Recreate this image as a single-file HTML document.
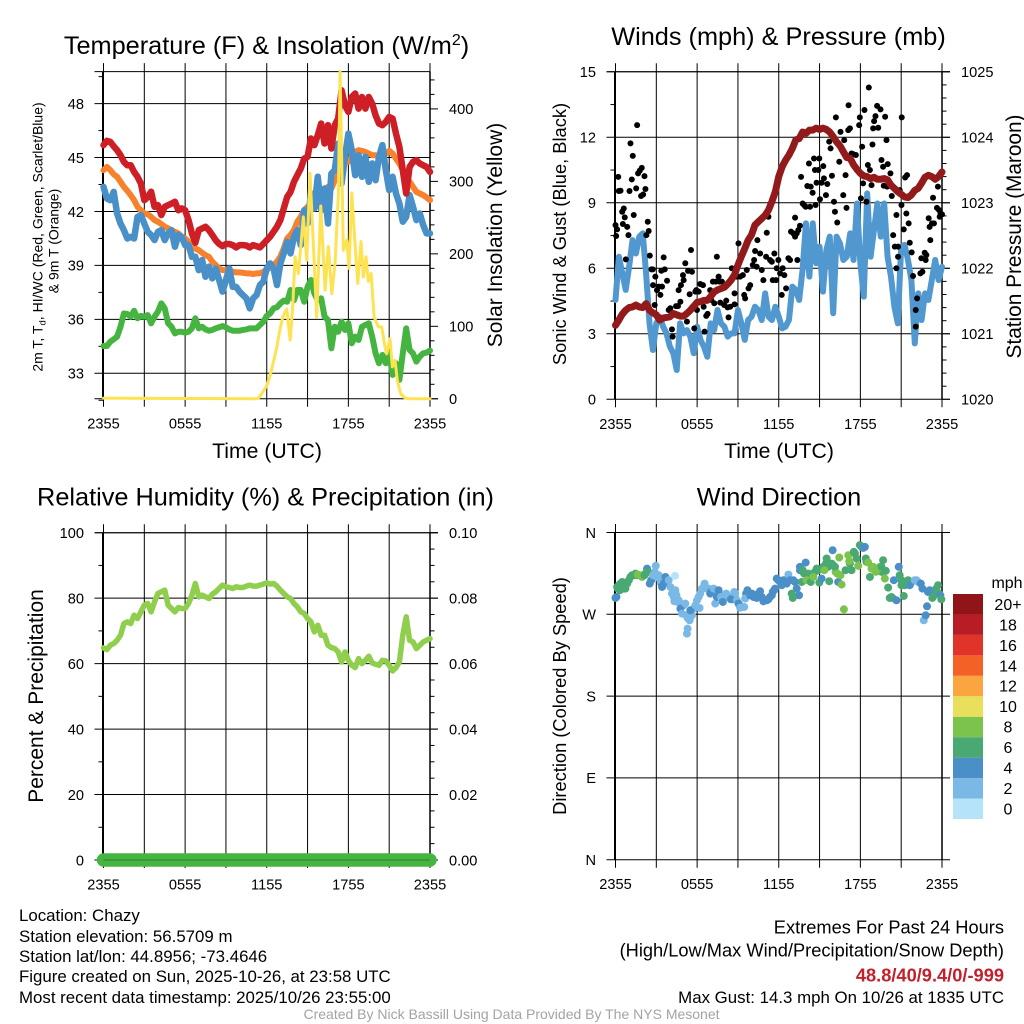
<!DOCTYPE html>
<html lang="en">
<head>
<meta charset="utf-8">
<title>Chazy NYS Mesonet Meteogram</title>
<style>
html,body{margin:0;padding:0;background:#fff;}
svg{display:block;}
text{font-family:"Liberation Sans",Arial,Helvetica,sans-serif;fill:#000;}
</style>
</head>
<body>
<svg id="chart" xmlns="http://www.w3.org/2000/svg" width="1024" height="1024" viewBox="0 0 1024 1024">
<rect x="0" y="0" width="1024" height="1024" fill="#fff"/>
<g id="layers"></g>
<text x="266.5" y="54" font-size="25.3" text-anchor="middle">Temperature (F) &amp; Insolation (W/m<tspan dy="-9" font-size="16">2</tspan><tspan dy="9">)</tspan></text>
<text x="778.5" y="45" font-size="25.3" text-anchor="middle">Winds (mph) &amp; Pressure (mb)</text>
<text x="265.5" y="505.5" font-size="25.3" text-anchor="middle">Relative Humidity (%) &amp; Precipitation (in)</text>
<text x="779" y="505.5" font-size="25.3" text-anchor="middle">Wind Direction</text>
<text x="267" y="458" font-size="21.2" text-anchor="middle">Time (UTC)</text>
<text x="779" y="458" font-size="21.2" text-anchor="middle">Time (UTC)</text>
<text transform="translate(42.5,237) rotate(-90)" font-size="14" text-anchor="middle">2m T, T<tspan dy="3" font-size="9.5">d</tspan><tspan dy="-3">, HI/WC (Red, Green, Scarlet/Blue)</tspan></text>
<text transform="translate(58.5,241) rotate(-90)" font-size="14" text-anchor="middle">&amp; 9m T (Orange)</text>
<text transform="translate(502,235) rotate(-90)" font-size="21" text-anchor="middle">Solar Insolation (Yellow)</text>
<text transform="translate(566,234) rotate(-90)" font-size="18.3" text-anchor="middle">Sonic Wind &amp; Gust (Blue, Black)</text>
<text transform="translate(1021,236.5) rotate(-90)" font-size="20.8" text-anchor="middle">Station Pressure (Maroon)</text>
<text transform="translate(43,696) rotate(-90)" font-size="21" text-anchor="middle">Percent &amp; Precipitation</text>
<text transform="translate(566,696) rotate(-90)" font-size="18.3" text-anchor="middle">Direction (Colored By Speed)</text>
<text x="1007" y="588" font-size="16" text-anchor="middle">mph</text>
<g font-size="16.85">
<text x="19" y="921">Location: Chazy</text>
<text x="19" y="942">Station elevation: 56.5709 m</text>
<text x="19" y="962">Station lat/lon: 44.8956; -73.4646</text>
<text x="19" y="982">Figure created on Sun, 2025-10-26, at 23:58 UTC</text>
<text x="19" y="1003">Most recent data timestamp: 2025/10/26 23:55:00</text>
</g>
<g text-anchor="end">
<text x="1004" y="933.5" font-size="18.25">Extremes For Past 24 Hours</text>
<text x="1004" y="956.5" font-size="18.25">(High/Low/Max Wind/Precipitation/Snow Depth)</text>
<text x="1004" y="981.5" font-size="18.25" font-weight="bold" style="fill:#c4202b">48.8/40/9.4/0/-999</text>
<text x="1004" y="1003" font-size="16.85">Max Gust: 14.3 mph On 10/26 at 1835 UTC</text>
</g>
<text x="511.5" y="1019" font-size="14" text-anchor="middle" style="fill:#a3a3a3">Created By Nick Bassill Using Data Provided By The NYS Mesonet</text>
</svg>
<script>
// Time axis: every regular series is sampled once per quarter hour from 2355 UTC.
const sampleStepHours = 0.25;
const timeTickHours = [0, 3, 6, 9, 12, 15, 18, 21, 24];
const timeTickLabels = ['2355', '', '0555', '', '1155', '', '1755', '', '2355'];

const tempTicks = [33, 36, 39, 42, 45, 48];
const tempMinorTicks = [31.5, 34.5, 37.5, 40.5, 43.5, 46.5, 49.5];
const solarTicks = [0, 100, 200, 300, 400];
const solarMinorTicks = [20, 40, 60, 80, 120, 140, 160, 180, 220, 240, 260, 280, 320, 340, 360, 380, 420, 440];
const windTicks = [0, 3, 6, 9, 12, 15];
const windMinorTicks = [1.5, 4.5, 7.5, 10.5, 13.5];
const pressureTicks = [1020, 1021, 1022, 1023, 1024, 1025];
const pressureMinorTicks = [1020.2, 1020.4, 1020.6, 1020.8, 1021.2, 1021.4, 1021.6, 1021.8, 1022.2, 1022.4, 1022.6, 1022.8, 1023.2, 1023.4, 1023.6, 1023.8, 1024.2, 1024.4, 1024.6, 1024.8];
const humidityTicks = [0, 20, 40, 60, 80, 100];
const humidityMinorTicks = [10, 30, 50, 70, 90];
const precipTicks = [0, 0.02, 0.04, 0.06, 0.08, 0.10];
const precipTickLabels = ['0.00', '0.02', '0.04', '0.06', '0.08', '0.10'];
const precipMinorTicks = [0.005, 0.01, 0.015, 0.025, 0.03, 0.035, 0.045, 0.05, 0.055, 0.065, 0.07, 0.075, 0.085, 0.09, 0.095];
const directionTicks = [0, 90, 180, 270, 360];
const directionTickLabels = ['N', 'E', 'S', 'W', 'N'];

const tempRed = [45.69,45.93,45.87,45.63,45.41,45.13,44.76,44.57,44.57,44.2,43.93,43.55,42.63,42.8,43.1,42.26,42.35,41.8,42.26,42.35,42.44,42.54,42.07,42.17,42.07,41.52,40.78,40.26,40.96,41.06,41.15,40.96,40.69,40.4,40.2,40.07,40.19,40.19,40.13,40,40.13,40.13,40.11,40,40.13,40.07,40,40.2,40.4,40.6,40.87,41.15,41.52,42.17,42.81,43.09,43.65,44.02,44.39,44.94,45.04,46.06,45.69,46.24,46.89,45.78,46.8,45.5,46.8,47.17,48.74,47.91,47.54,48.37,48.56,47.72,48.37,47.72,48.37,48,47.35,46.89,46.8,46.98,47.26,47.17,46.33,45.59,44.3,43,44.48,44.76,44.85,44.67,44.57,44.48,44.2];
const tempOrange = [44.30,44.48,44.30,44.07,43.93,43.65,43.37,43.15,42.91,42.63,42.26,42.07,41.89,41.85,41.70,41.52,41.43,41.30,41.15,41.06,40.96,40.87,40.78,40.59,40.50,40.31,40.13,39.94,39.85,39.70,39.57,39.48,39.20,39.02,38.83,38.74,38.74,38.70,38.65,38.61,38.61,38.59,38.56,38.56,38.52,38.56,38.56,38.65,38.74,38.93,39.02,39.20,39.48,39.94,40.50,40.69,40.96,41.43,41.70,42.07,42.26,42.35,42.54,42.81,43.00,43.19,43.37,43.28,43.74,44.02,44.48,44.85,44.76,45.04,45.31,45.41,45.37,45.31,45.22,45.13,45.13,45.04,45.04,45.22,45.37,45.22,44.94,44.67,44.30,43.93,43.65,43.37,43.09,43.00,42.91,42.78,42.63];
const tempBlue = [43.37,42.72,42.63,43.09,41.89,41.33,40.96,40.50,40.59,40.50,41.70,41.80,41.33,40.87,40.69,40.41,40.87,40.96,40.41,40.78,40.96,40.04,40.69,40.59,40.13,40.13,39.48,39.48,38.74,39.30,38.37,38.93,38.28,38.83,38.19,37.54,38.19,38.83,37.81,37.81,37.54,37.35,37.17,36.61,37.17,37.35,37.91,38.09,38.83,39.11,38.83,37.91,39.11,39.67,40.31,39.67,40.59,40.96,40.13,42.07,41.33,43.00,42.17,43.93,42.07,43.28,41.33,44.11,44.30,45.78,43.56,45.04,46.33,45.41,44.02,45.13,43.93,45.04,43.65,44.67,43.74,45.04,45.69,44.30,43.19,43.93,43.00,42.44,41.43,41.70,42.91,42.26,41.52,41.89,41.24,40.78,40.78];
const tempGreen = [34.52,34.52,34.76,34.89,35.04,35.59,36.33,36.30,36.15,36.48,36.06,36.19,36.15,36.24,35.78,36.15,36.43,36.89,36.61,35.78,35.59,35.22,35.31,35.31,35.26,35.31,35.50,36.06,35.50,35.59,35.44,35.37,35.41,35.50,35.56,35.63,35.56,35.44,35.37,35.37,35.37,35.41,35.44,35.50,35.50,35.50,35.69,35.87,36.19,36.33,36.61,36.67,36.89,37.04,36.98,37.63,37.07,37.63,37.63,36.98,37.81,38.19,37.44,37.07,37.17,36.15,35.96,34.39,35.59,35.31,35.87,35.41,35.78,34.67,35.04,34.85,35.59,35.69,35.78,35.04,34.11,33.56,34.02,33.56,34.11,32.91,33.56,32.63,34.11,35.50,34.30,34.11,33.65,33.93,34.11,34.15,34.26];

const solarHours = [0,11.14,11.39,11.63,12,12.25,12.49,12.74,12.93,13.18,13.47,13.72,13.91,14.08,14.33,14.69,14.94,15.18,15.48,15.67,15.97,16.29,16.53,16.78,17.02,17.27,17.39,17.63,17.88,18.05,18.25,18.44,18.69,18.93,19.1,19.3,19.47,19.67,19.89,20.21,20.45,20.7,20.82,21.06,21.23,21.43,21.6,21.85,22.16,22.53,24];
const solarValues = [1,0,1,7,18,32,51,71,92,113,124,81,127,196,173,251,191,311,191,113,266,150,210,145,187,284,452,205,219,180,284,228,159,217,168,196,162,173,113,99,99,71,62,83,44,53,25,7,1,0,0];

const windSpeed = [4.55,6.53,5.77,5.01,6.07,7.29,6.68,7.45,7.60,5.77,3.48,2.26,3.48,3.78,3.33,3.02,2.41,2.11,1.34,3.48,3.02,3.17,2.87,2.11,3.33,2.72,2.41,1.95,3.48,3.17,4.09,3.48,3.33,2.87,3.02,3.02,4.09,3.48,2.72,3.63,3.78,4.24,4.09,3.63,4.85,3.78,3.63,4.24,3.78,3.25,3.33,3.63,5.16,5.01,4.55,5.92,8.06,5.62,8.06,6.23,6.99,4.93,6.84,7.45,3.94,7.45,7.14,6.38,6.53,7.60,6.38,8.97,6.23,4.70,9.43,6.53,7.75,8.97,7.45,8.97,6.53,5.62,4.24,3.48,6.99,7.07,6.38,5.46,2.56,4.85,3.63,4.85,4.55,5.46,6.38,5.46,6.07];
const pressureValues = [1021.13,1021.21,1021.30,1021.36,1021.40,1021.41,1021.44,1021.41,1021.40,1021.46,1021.36,1021.32,1021.29,1021.21,1021.24,1021.25,1021.26,1021.31,1021.29,1021.27,1021.27,1021.31,1021.36,1021.42,1021.48,1021.49,1021.51,1021.51,1021.57,1021.64,1021.67,1021.69,1021.71,1021.76,1021.82,1021.90,1022.05,1022.18,1022.30,1022.43,1022.51,1022.66,1022.71,1022.76,1022.81,1022.89,1023.02,1023.17,1023.40,1023.55,1023.65,1023.73,1023.83,1023.96,1023.98,1024.08,1024.06,1024.11,1024.11,1024.14,1024.12,1024.14,1024.12,1024.08,1024.01,1023.93,1023.87,1023.78,1023.69,1023.68,1023.58,1023.51,1023.45,1023.41,1023.40,1023.37,1023.39,1023.36,1023.36,1023.37,1023.35,1023.27,1023.22,1023.17,1023.13,1023.09,1023.08,1023.12,1023.19,1023.22,1023.30,1023.39,1023.42,1023.40,1023.36,1023.40,1023.47];

const gustHours = [0,.05,.12,.2,.24,.37,.49,.61,.54,.68,.86,.95,.76,1.03,1.1,1.27,1.2,1.34,1.52,1.59,1.66,1.78,1.93,1.88,2.03,2.13,2.2,2.37,2.44,2.27,2.52,2.64,2.74,2.76,2.93,2.88,3.05,3.18,3.3,3.42,3.37,3.54,3.62,3.79,3.91,4.03,4.2,4.15,4.45,4.59,4.64,4.81,4.77,5.01,4.96,5.13,5.33,5.55,5.62,5.25,5.45,5.79,5.87,5.99,5.94,6.11,6.23,6.43,6.48,6.55,6.67,6.77,6.96,7.04,7.16,7.26,7.45,7.38,7.58,7.65,7.7,7.82,7.99,8.14,8.24,8.31,8.43,8.55,8.75,8.75,8.92,9.04,9.16,9.36,9.46,9.53,9.65,9.78,9.9,10.09,10.19,10.26,10.43,10.38,10.63,10.75,10.87,11.07,11.12,11.24,11.36,11.49,11.56,11.68,11.8,11.85,11.97,12.1,12.22,12.29,12.41,12.54,12.71,12.83,12.9,13.07,13.2,13.32,13.44,13.56,13.2,13.37,13.64,13.76,13.86,13.98,14.1,14.22,14.35,14.3,14.49,14.59,14.66,14.71,14.91,14.78,14.98,15.03,15.15,15.27,15.32,15.47,15.57,15.71,15.81,15.91,16.06,16.13,16.2,16.3,16.45,16.54,16.74,16.81,16.91,16.98,17.11,17.13,17.23,17.35,17.47,17.67,17.91,17.96,18.04,18.13,18.2,18.3,18.45,18.55,18.62,18.7,18.82,18.89,18.94,19.01,19.11,19.23,19.31,19.48,19.55,19.67,19.72,19.82,19.92,19.97,20.01,20.21,20.31,20.41,20.53,20.65,20.65,20.77,20.77,20.89,21.02,21.04,21.19,21.29,21.43,21.38,21.55,21.63,21.77,21.87,22.17,22.07,22.07,22.41,22.48,22.56,22.73,22.85,22.8,23.02,23.09,23.14,23.26,23.41,23.34,23.63,23.7,23.78,23.83,23.9,24];
const gustSpeed = [7.98,7.48,7.78,10.19,9.54,9.55,8.59,8.74,8.03,8.33,7.9,7.52,6.41,9.54,11.72,11.15,10.07,8.44,9.66,12.56,10.35,10.47,10.6,9.31,9.38,10.22,9.63,8.13,7.71,7.52,6.58,5.95,5.95,5.23,5.62,4.32,5.0,5.16,4.78,5.16,5.89,6.5,5.95,5.43,4.09,4.17,2.87,3.2,4.27,4.27,5.0,5.23,4.47,5.46,5.69,6.23,5.88,6.84,5.84,3.56,4.81,3.25,4.93,4.09,5.0,4.93,5.28,5.23,4.24,3.1,3.82,3.91,5.0,4.55,5.39,4.4,6.53,5.39,5.62,5.39,4.43,5.39,4.32,4.52,4.21,3.75,4.24,6.0,4.85,4.35,5.62,7.14,5.62,5.69,4.78,4.62,5.92,5.08,5.23,6.15,6.38,6.79,7.29,6.07,6.68,5.92,5.46,6.53,7.63,8.36,6.38,6.3,5.46,6.68,5.46,6.0,6.38,5.77,4.78,6.0,5.69,5.08,6.46,6.38,7.68,7.6,7.45,7.6,7.75,7.95,8.32,6.38,10.19,8.97,8.9,8.82,9.77,10.8,9.74,8.82,9.46,11.03,10.5,8.9,10.5,9.92,11.03,9.16,9.92,10.68,10.12,9.35,9.86,11.8,11.49,10.24,9.05,8.59,12.91,8.1,10.88,12.25,9.35,11.87,10.27,8.77,12.33,13.47,12.41,11.26,11.23,11.19,12.56,12.91,9.2,11.57,9.89,13.25,9.05,10.73,14.28,10.5,9.81,11.67,12.41,12.74,12.97,13.44,12.44,13.28,10.96,10.65,9.78,12.94,11.87,9.74,10.77,10.35,9.31,7.52,6.99,8.44,6.0,6.99,6.53,9.58,8.9,12.91,7.78,10.16,10.27,8.51,8.06,7.17,6.73,5.65,4.62,4.09,3.33,5.77,6.46,5.84,6.71,6.61,6.38,8.29,7.9,7.29,8.06,8.06,9.23,8.77,9.74,8.67,8.36,8.51,8.47];

const humidityValues = [64.8,64.29,65.61,66.12,67.14,68.67,72.24,72.76,72.24,74.8,73.78,75.82,77.86,78.37,75.82,78.88,81.43,81.94,82.45,77.86,76.84,75.82,77.14,76.84,76.84,78.37,80.92,84.49,80.41,80.92,80.41,79.9,81.22,81.94,82.96,83.98,83.47,83.27,82.96,83.47,83.27,83.27,83.67,83.98,83.67,83.67,83.98,84.29,84.69,84.29,84.49,83.67,82.45,81.43,80.41,79.9,78.37,77.35,75.82,75.31,73.78,72.76,69.69,71.73,68.67,68.67,65.61,64.9,64.59,63.57,60.51,63.57,61.02,59.49,58.78,61.53,60,61.02,62.24,60.2,59.8,59.49,61.02,60.82,59.49,57.76,58.78,60.51,68.67,74.29,67.14,66.63,64.59,65.61,66.63,67.14,67.65];
const precipHours = [0, 6, 12, 18, 24];
const precipValues = [0, 0, 0, 0, 0];

const directionHours = [0,.07,.17,.24,.37,.49,.61,.73,.42,.86,.98,1.1,1.22,1.47,1.64,1.83,2.03,2.13,2.32,2.37,2.52,2.76,2.96,3.05,3.3,3.42,3.54,3.67,3.91,4.03,4.37,4.4,4.28,4.33,4.64,4.77,4.89,5.13,5.3,5.5,5.45,5.3,5.25,5.87,5.99,6.18,6.35,6.55,6.84,7.01,7.21,7.33,7.45,7.58,7.75,7.89,8.14,8.48,8.73,8.92,9.04,9.16,9.46,9.53,9.7,9.9,10.14,10.38,10.63,10.87,11.12,11.36,11.56,11.73,11.85,12.1,12.22,12.46,12.71,12.83,13.07,13.32,13.49,12.95,13.03,13.56,13.98,13.76,13.69,14.05,14.35,14.54,14.79,14.98,15.15,15.35,15.52,15.71,15.89,15.96,16.13,16.3,16.45,16.37,16.54,16.62,16.79,16.91,17.11,17.18,17.35,17.52,17.72,17.84,17.96,18.21,18.33,18.4,18.57,18.7,18.94,19.14,19.31,19.55,19.67,19.8,19.87,20.04,20.16,20.36,20.46,20.65,20.82,20.89,21.02,21.19,21.26,21.51,21.63,22,22.24,22.44,22.56,22.66,22.8,22.9,23.09,23.29,23.58,23.71,23.88,23.95];
const directionDegrees = [288,289.1,298.3,302,303.8,305.6,298.3,298.3,300.1,303.8,307.5,311.1,313,314.8,313.7,313,312.3,313,320.3,316.7,303.8,313,323.3,311.1,307.5,300.1,303.8,311.1,307.5,300.1,312.3,296.5,289.1,284.3,285.4,276.2,270.7,281.8,266,274.4,263.4,254.2,248.7,279.9,285.4,277,298.3,303.8,298.3,294.6,298.3,281.8,289.1,296.5,289.1,283.6,292.8,286.5,294.6,285.4,281.8,277.3,278.1,287.3,296.5,290.9,289.1,288,295.4,284.3,285.4,289.1,294.6,298.3,309.3,305.6,302,307.5,313.7,307.5,307.5,298.3,290.9,292.8,288,322.2,326.9,318.5,305.6,307.5,305.6,311.1,320.3,304.9,309.3,318.5,331.4,306.4,325.8,340.5,322.2,314.8,332.5,305.6,313,302.7,275.5,318.5,335,328.4,318.5,338.7,331.4,323.3,346.1,343.1,344.2,331.4,327,311.1,322.2,316.7,320.3,322.2,329.5,309.3,317.8,299.4,288,288,307.5,285.4,322.2,313,307.5,290.2,302,307.5,302,307.5,305.6,303.8,298.3,263.4,268.9,278.8,296.5,288,298.3,302,290.9,286.5];
const directionSpeeds = [4,4,6,6,6,6,6,6,6,6,6,6,6,6,8,8,8,6,4,6,4,2,2,2,2,4,4,4,2,2,0,2,2,2,2,4,2,2,2,4,2,2,2,2,2,2,2,2,2,4,2,2,4,4,2,4,2,4,2,2,4,2,2,2,4,4,4,4,4,4,4,4,4,4,4,4,4,4,2,4,4,4,4,6,6,4,4,6,6,8,6,8,6,6,4,8,6,6,6,4,6,8,8,4,8,8,8,6,8,8,6,6,6,8,6,4,4,6,8,6,8,8,8,6,6,8,6,6,6,6,4,4,4,6,6,6,6,6,4,2,2,4,4,2,4,4,4,6,6,6,4,6];
const directionExtraHours = [.12,.56,.32,1.34,1.59,1.95,2.2,2.62,2.88,3.18,3.37,3.79,4.15,4.48,4.57,5.01,5.2,5.62,5.74,6.11,6.23,6.48,6.67,6.96,7.41,7.65,7.99,8.31,8.63,8.8,9.12,9.6,9.78,10.02,10.26,10.51,10.75,11,11.24,11.49,11.66,11.97,12.34,12.59,13.2,13.56,13.86,14.18,14.66,14.91,15.27,15.47,15.64,16.01,16.18,17.23,17.6,18.09,18.45,18.82,19.06,19.43,19.55,20.28,21.02,21.39,21.75,22.12,22.97,23.34,23.46,23.78];
const directionExtraDegrees = [300.1,302,296.5,313,313,311.1,314.8,307.5,316.7,313,303.8,305.6,292.8,291,283.6,279.9,268.9,268.9,276.2,289.1,292.8,300.1,298.3,292.8,290.9,289.1,290.9,289.1,286.5,292.8,279.9,292.8,292.8,292.8,290.9,292.8,289.1,285.4,286.5,290.9,296.5,307.5,307.5,303.8,305.6,318.5,314.8,314.8,316.7,318.5,322.2,325.8,322.2,324,316.7,325.8,336.9,344.2,327.7,320.3,318.5,322.2,316.7,289.1,302,305.6,305.6,307.5,294.6,289.1,294.6,292.8];
const directionExtraSpeeds = [6,6,6,6,6,8,6,4,2,2,4,2,2,2,2,2,2,2,2,2,2,2,2,4,2,4,2,2,4,2,4,4,4,4,4,4,4,4,4,4,4,4,4,4,4,4,6,6,6,6,6,6,6,6,8,6,6,6,6,8,8,8,6,6,6,6,4,2,4,6,6,6];

const legendLabels = ['0', '2', '4', '6', '8', '10', '12', '14', '16', '18', '20+'];
const legendColors = ['#b5e3f9', '#7ab9e6', '#4a8fc7', '#4aa873', '#7cc34e', '#e8e05a', '#faa540', '#f46127', '#e0342a', '#b81c25', '#8f1519'];

const svgNS = 'http://www.w3.org/2000/svg';
const root = document.getElementById('layers');

function add(tag, attrs, parent) {
  const el = document.createElementNS(svgNS, tag);
  for (const key in attrs) el.setAttribute(key, attrs[key]);
  parent.appendChild(el);
  return el;
}

function scale(d0, d1, r0, r1) {
  return function (v) { return r0 + (v - d0) * (r1 - r0) / (d1 - d0); };
}

function linePoints(times, values, xFn, yFn) {
  return values.map(function (v, i) { return xFn(times(i)).toFixed(2) + ',' + yFn(v).toFixed(2); }).join(' ');
}

function sampleTime(i) { return i * sampleStepHours; }

function drawLine(parent, name, times, values, xFn, yFn, color, width) {
  const line = add('polyline', {
    points: linePoints(times, values, xFn, yFn),
    fill: 'none', stroke: color, 'stroke-width': width,
    'stroke-linejoin': 'round', 'stroke-linecap': 'round'
  }, parent);
  
  
  return line;
}

function drawTickText(parent, name, x, y, anchor, label) {
  const t = add('text', { x: x, y: y, 'font-size': 14.6, 'text-anchor': anchor }, parent);
  t.textContent = label;
  
  
  return t;
}

function drawFrame(name, x, y, cfg) {
  const left = x(0), right = x(24), top = cfg.top, bottom = cfg.bottom;
  const g = add('g', { stroke: '#000', 'stroke-width': 1, fill: 'none' }, root);
  
  

  const labels = add('g', {}, root);
  
  

  timeTickHours.forEach(function (h, i) {
    const gridV = add('line', { x1: x(h), x2: x(h), y1: top - 8.5, y2: bottom + 8 }, g);
    
    
    if (timeTickLabels[i]) {
      drawTickText(labels, name + '-time-label', x(h), bottom + 29.5, 'middle', timeTickLabels[i]);
    }
  });

  cfg.leftTicks.forEach(function (v, i) {
    const gridH = add('line', { x1: left - 9, x2: right + cfg.rightExtend, y1: y(v), y2: y(v) }, g);
    
    
    const lab = cfg.leftLabels ? cfg.leftLabels[i] : String(v);
    drawTickText(labels, name + '-left-axis-label', left - 19.5, y(v) + 5.3, 'end', lab);
  });

  (cfg.leftMinor || []).forEach(function (v) {
    const tk = add('line', { x1: left - 5, x2: left, y1: y(v), y2: y(v) }, g);
    
    
  });

  if (cfg.rightScale) {
    cfg.rightTicks.forEach(function (v, i) {
      const py = cfg.rightScale(v);
      const tk = add('line', { x1: right, x2: right + 8, y1: py, y2: py }, g);
      
      
      const lab = cfg.rightLabels ? cfg.rightLabels[i] : String(v);
      drawTickText(labels, name + '-right-axis-label', right + 19, py + 5.3, 'start', lab);
    });
    cfg.rightMinor.forEach(function (v) {
      const py = cfg.rightScale(v);
      const tk = add('line', { x1: right, x2: right + 4.5, y1: py, y2: py }, g);
      
      
    });
  }

  const spine = add('line', { x1: left - 0.5, x2: left - 0.5, y1: top, y2: bottom, 'stroke-width': 2 }, g);
  
  
  const rightSpine = add('line', { x1: right, x2: right, y1: top, y2: bottom, 'stroke-width': 1.5 }, g);
  
  
}

// Temperature & insolation panel
const xLeft = scale(0, 24, 103.5, 430);
const xRight = scale(0, 24, 615.5, 942);
const yTemp = scale(48, 33, 103.6, 373.3);
const ySolar = scale(0, 400, 398.8, 108.9);
drawFrame('temperature-panel', xLeft, yTemp, {
  top: 71.6, bottom: 398.8, rightExtend: 0,
  leftTicks: tempTicks, leftMinor: tempMinorTicks,
  rightScale: ySolar, rightTicks: solarTicks, rightMinor: solarMinorTicks
});
const topLimits = add('line', { x1: 94.5, x2: 430, y1: 71.6, y2: 71.6, stroke: '#000', 'stroke-width': 1 }, root);


const bottomLimits = add('line', { x1: 94.5, x2: 438, y1: 398.8, y2: 398.8, stroke: '#000', 'stroke-width': 1 }, root);


const tempSeries = add('g', {}, root);


drawLine(tempSeries, 'dew-point-line-green', sampleTime, tempGreen, xLeft, yTemp, '#46b440', 6);
drawLine(tempSeries, 'nine-meter-temperature-line-orange', sampleTime, tempOrange, xLeft, yTemp, '#f7812d', 6);
drawLine(tempSeries, 'heat-index-wind-chill-line-blue', sampleTime, tempBlue, xLeft, yTemp, '#4a90c8', 6.5);
drawLine(tempSeries, 'two-meter-temperature-line-red', sampleTime, tempRed, xLeft, yTemp, '#ce1f26', 6.5);
drawLine(tempSeries, 'solar-insolation-line-yellow', function (i) { return solarHours[i]; }, solarValues, xLeft, ySolar, '#fde352', 3);

// Winds & pressure panel
const yWind = scale(0, 15, 399.3, 71.8);
const yPressure = scale(1020, 1025, 399.3, 71.8);
drawFrame('winds-panel', xRight, yWind, {
  top: 71.8, bottom: 399.3, rightExtend: 8,
  leftTicks: windTicks, leftMinor: windMinorTicks,
  rightScale: yPressure, rightTicks: pressureTicks, rightMinor: pressureMinorTicks
});
const windSeries = add('g', {}, root);


drawLine(windSeries, 'sonic-wind-line-blue', sampleTime, windSpeed, xRight, yWind, '#5298d0', 6);
gustHours.forEach(function (h, i) {
  const dot = add('circle', { cx: xRight(h), cy: yWind(gustSpeed[i]), r: 3, fill: '#000' }, windSeries);
  
  
});
drawLine(windSeries, 'station-pressure-line-maroon', sampleTime, pressureValues, xRight, yPressure, '#921a1b', 7);

// Humidity & precipitation panel
const yHumidity = scale(0, 100, 860, 532.7);
const yPrecip = scale(0, 0.1, 860, 532.7);
drawFrame('humidity-panel', xLeft, yHumidity, {
  top: 532.7, bottom: 860, rightExtend: 8,
  leftTicks: humidityTicks, leftMinor: humidityMinorTicks,
  rightScale: yPrecip, rightTicks: precipTicks, rightLabels: precipTickLabels, rightMinor: precipMinorTicks
});
const rhSeries = add('g', {}, root);


drawLine(rhSeries, 'relative-humidity-line', sampleTime, humidityValues, xLeft, yHumidity, '#90ce4e', 5.5);
drawLine(rhSeries, 'precipitation-line', function (i) { return precipHours[i]; }, precipValues, xLeft, yPrecip, '#46b440', 13.5);
const zeroLine = add('line', { x1: xLeft(0), x2: xLeft(24), y1: yHumidity(0), y2: yHumidity(0), stroke: '#2a6a28', 'stroke-width': 0.8 }, rhSeries);



// Wind direction panel
const yDirection = scale(0, 360, 859.7, 532.5);
drawFrame('direction-panel', xRight, yDirection, {
  top: 532.5, bottom: 859.7, rightExtend: 8,
  leftTicks: directionTicks, leftLabels: directionTickLabels
});
const dirSeries = add('g', {}, root);


function speedColor(speed) {
  const index = Math.min(legendColors.length - 1, Math.max(0, Math.round(speed / 2)));
  return legendColors[index];
}
directionExtraHours.forEach(function (h, i) {
  const dot = add('circle', { cx: xRight(h), cy: yDirection(directionExtraDegrees[i]), r: 4, fill: speedColor(directionExtraSpeeds[i]) }, dirSeries);
  
  
});
directionHours.forEach(function (h, i) {
  const dot = add('circle', { cx: xRight(h), cy: yDirection(directionDegrees[i]), r: 4, fill: speedColor(directionSpeeds[i]) }, dirSeries);
  
  
});

// Speed colour legend
const legendScale = scale(0, legendLabels.length, 819, 594);
const legend = add('g', {}, root);


legendLabels.forEach(function (label, i) {
  const box = add('rect', { x: 953, width: 30, y: legendScale(i + 1), height: legendScale(i) - legendScale(i + 1), fill: legendColors[i] }, legend);
  
  
  const text = add('text', { x: 1008, y: (legendScale(i) + legendScale(i + 1)) / 2 + 5.7, 'font-size': 16, 'text-anchor': 'middle' }, legend);
  text.textContent = label;
  
  
});

// Top borders for the remaining panels
[[71.8, 'winds-panel-top-border', 606.5, 950], [532.7, 'humidity-panel-top-border', 94.5, 438], [532.5, 'direction-panel-top-border', 606.5, 950]].forEach(function (b) {
  const line = add('line', { x1: b[2], x2: b[3], y1: b[0], y2: b[0], stroke: '#000', 'stroke-width': 1 }, root);
  
  
});
</script>
</body>
</html>
